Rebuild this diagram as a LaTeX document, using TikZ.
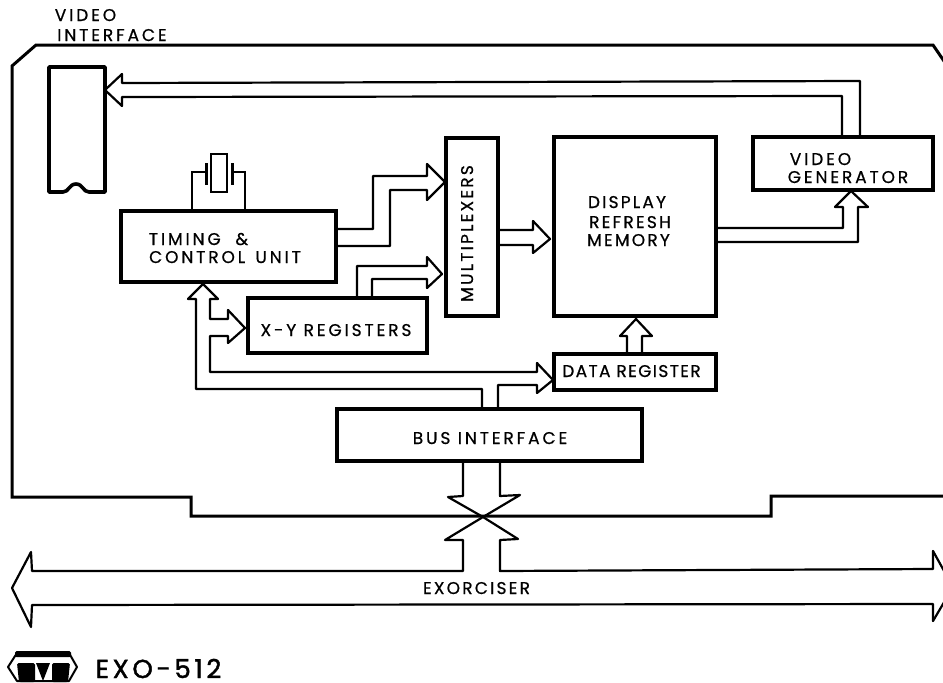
\documentclass[tikz,border=0pt]{standalone}
\usepackage{fontspec}
\setmainfont{Poppins}
\newfontfamily\lab[LetterSpace=13,FakeBold=0.7]{Poppins}
\newfontfamily\labw[LetterSpace=17,FakeBold=0.7]{Poppins}
\newfontfamily\labn[LetterSpace=8,FakeBold=0.7]{Poppins}
\newfontfamily\labb[LetterSpace=14,FakeBold=1.6]{Poppins}
\tikzset{
  board/.style={draw=black,line width=3pt,line join=miter},
  box/.style={draw=black,line width=3.6pt,inner sep=0pt,outer sep=0pt},
  bus/.style={draw=black,line width=2.2pt,line join=round,line cap=round},
  lead/.style={draw=black,line width=1.9pt},
  txt/.style={inner sep=0pt,anchor=base,font=\fontsize{17}{17}\selectfont\lab},
  txtw/.style={inner sep=0pt,anchor=base,font=\fontsize{17}{17}\selectfont\labw},
  txtn/.style={inner sep=0pt,anchor=base,font=\fontsize{17}{17}\selectfont\labn},
}
\begin{document}
\begin{tikzpicture}[x=1pt,y=-1pt]
\useasboundingbox (0,0) rectangle (943,683);
\begin{scope}
\clip (0,0) rectangle (943,683);
% board
\draw[board] (946,64) -- (933,45) -- (36,45) -- (12,66) -- (12,497) -- (191,497) -- (191,516) -- (771,516) -- (771,496) -- (946,496);
\coordinate (xl) at (12,588);
\coordinate (xr) at (953,587);
\end{scope}
% boxes
\node[box,minimum width=215pt,minimum height=71pt] (timing) at (228.5,246.5) {};
\node[box,minimum width=179pt,minimum height=55pt] (xy) at (337.5,325.5) {};
\node[box,minimum width=52pt,minimum height=178pt] (mux) at (472,227) {};
\node[box,minimum width=162pt,minimum height=179pt] (mem) at (635,226.5) {};
\node[box,minimum width=180pt,minimum height=53pt] (vgen) at (843,163.5) {};
\node[box,minimum width=162pt,minimum height=36pt] (data) at (635,372) {};
\node[box,minimum width=305pt,minimum height=52pt] (bif) at (489.5,435) {};
% video connector
\draw[draw=black,line width=3.6pt,line join=round] (105,67) -- (49,67) -- (49,192) -- (63,192) .. controls (69,192) and (69,184) .. (76,184) .. controls (83,184) and (83,192) .. (89,192) -- (105,192) -- cycle;
\coordinate (conn) at (105,90);
% labels
\node[txtw] (t1) at (85.5,21) {VIDEO};
\node[txtw] (t2) at (112,41) {INTERFACE};
\node[txtw] (t3) at (198.5,245) {TIMING \ \&};
\node[txtw] (t4) at (225,263) {CONTROL \,UNIT};
\node[txtw] (t5) at (336,336) {X-Y REGISTERS};
\node[txt,rotate=90] (t6) at (473,233.5) {MULTIPLEXERS};
\node[txt] (t7) at (627,208) {DISPLAY};
\node[txt] (t8) at (630,228) {REFRESH};
\node[txt] (t9) at (628.5,246) {MEMORY};
\node[txtw] (t10) at (820.5,165) {VIDEO};
\node[txtw] (t11) at (848,183) {GENERATOR};
\node[txtn] (t12) at (631.5,377) {DATA REGISTER};
\node[txtw] (t13) at (490,444) {BUS INTERFACE};
\node[txt] (t14) at (476.5,594) {EXORCISER};
\node[inner sep=0pt,anchor=base,font=\fontsize{26}{26}\selectfont\labb] (t15) at (158.5,678) {EXO-512};
% video bus to connector
\draw[bus] (vgen.north -| 860,0) -- (860,81) -- (122,83) -- (122,74) -- (conn) -- (122,106) -- (122,97) -- (842,96) -- (vgen.north -| 842,0);
% memory to video generator
\draw[bus] (mem.east |- 0,228) -- (843,228) -- (843,207) -- (835,207) -- (851,191) -- (868,207) -- (858,207) -- (858,242) -- (mem.east |- 0,242);
% mux to memory
\draw[bus] (mux.east |- 0,230) -- (533,230) -- (533,221) -- (550,239) -- (533,253) -- (533,245) -- (mux.east |- 0,245);
% timing to mux
\draw[bus] (timing.east |- 0,229) -- (373,229) -- (373,176) -- (427,176) -- (427,164) -- (445,182) -- (427,200) -- (427,190) -- (390,190) -- (390,246) -- (timing.east |- 0,246);
% xy to mux
\draw[bus] (xy.north -| 357,0) -- (357,266) -- (427,266) -- (427,257) -- (442,274) -- (427,288) -- (427,279) -- (372,279) -- (xy.north -| 372,0);
% data to mem
\draw[bus] (data.north -| 627,0) -- (627,336) -- (620,336) -- (636,319) -- (652,336) -- (642,336) -- (data.north -| 642,0);
% bus interface to timing, xy, data
\draw[bus] (bif.north -| 482,0) -- (482,389) -- (196,389) -- (196,299) -- (188,299) -- (203,284) -- (218,299) -- (210,299) -- (210,319) -- (228,319) -- (228,310) -- (245,328) -- (228,343) -- (228,336) -- (210,336) -- (210,372) -- (537,372) -- (537,363) -- (553,380) -- (537,393) -- (537,385) -- (498,385) -- (bif.north -| 498,0);
% crystal
\draw[lead] (timing.north -| 192,0) -- (192,172) -- (206,172);
\draw[lead] (timing.north -| 245,0) -- (245,172) -- (232,172);
\draw[line width=3pt] (206,163) -- (206,185);
\draw[line width=3pt] (232,163) -- (232,185);
\node[draw=black,line width=2.4pt,inner sep=0pt,minimum width=16pt,minimum height=38pt] (xtal) at (219,173) {};
% bus interface to exorciser
\coordinate (cross) at (483,517);
\draw[bus] (bif.south -| 463,0) -- (463,496) -- (448,497) -- (cross) -- (445,540) -- (463,540) -- (463,571) -- (32,571) -- (31,552) -- (xl) -- (31,627) -- (32,605) -- (933,604) -- (933,621);
\draw[bus] (bif.south -| 500,0) -- (500,496) -- (520,495) -- (cross) -- (518,539) -- (500,540) -- (500,571) -- (933,569) -- (933,551);
\begin{scope}
\clip (0,0) rectangle (943,683);
\draw[bus] (933,551) -- (xr) -- (933,621);
\end{scope}
% logo
\draw[line width=2pt,line join=round] (8,667) -- (17,653) -- (69,653) -- (77,667) -- (69,681) -- (17,681) -- cycle;
\fill[rounded corners=1.5pt] (15,651) rectangle (71,657);
\fill[rounded corners=1.5pt] (17,663) -- (35,663) -- (35,682) -- (19,682) -- cycle;
\fill[rounded corners=1.5pt] (52,663) -- (70,663) -- (68,682) -- (52,682) -- cycle;
\fill (36,663) -- (50,663) -- (43,681) -- cycle;
\end{tikzpicture}
\end{document}
